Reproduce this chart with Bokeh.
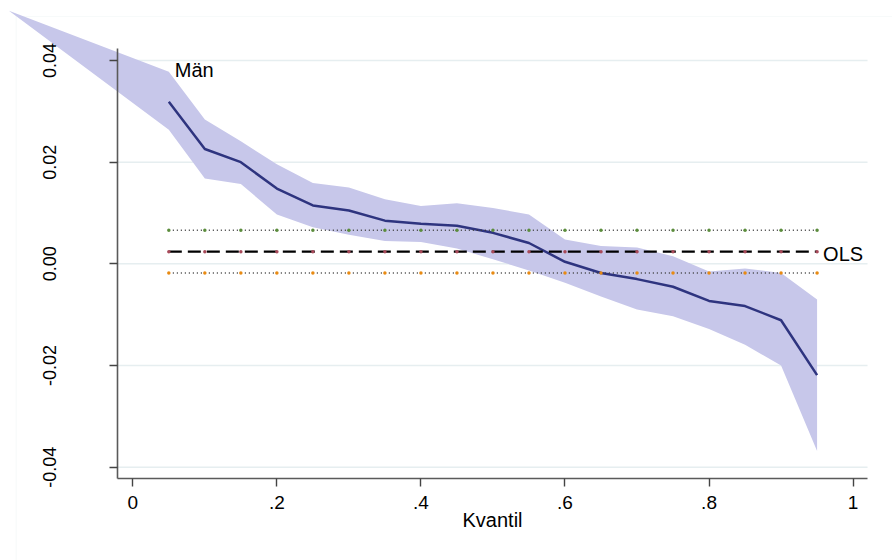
import math
from bokeh.plotting import figure
from bokeh.models import LinearAxis, FixedTicker, BoxAnnotation, Range1d
from bokeh.core.properties import value
from bokeh.embed import file_html
from bokeh.resources import INLINE

# ---- data ----
quantiles = [0.05, 0.10, 0.15, 0.20, 0.25, 0.30, 0.35, 0.40, 0.45, 0.50,
             0.55, 0.60, 0.65, 0.70, 0.75, 0.80, 0.85, 0.90, 0.95]
coef_men = [0.0319, 0.0226, 0.0200, 0.0148, 0.0115, 0.0105, 0.0085, 0.0079, 0.0075, 0.0061,
            0.0041, 0.0004, -0.0018, -0.0030, -0.0045, -0.0073, -0.0083, -0.0111, -0.0219]
ci_upper = [0.0378, 0.0284, 0.0241, 0.0196, 0.0159, 0.0150, 0.0127, 0.0114, 0.0119, 0.0110,
            0.0097, 0.0048, 0.0035, 0.0032, 0.0015, -0.0015, -0.0009, -0.0018, -0.0070]
ci_lower = [0.0264, 0.0168, 0.0157, 0.0097, 0.0072, 0.0057, 0.0045, 0.0043, 0.0030, 0.0009,
            -0.0013, -0.0037, -0.0064, -0.0090, -0.0103, -0.0128, -0.0159, -0.0200, -0.0368]
band_start_x = -0.172
band_start_y = 0.0498
ols_coef = 0.0024
ols_upper = 0.0066
ols_lower = -0.0018
x_ticks = [0, 0.2, 0.4, 0.6, 0.8, 1]
x_tick_labels = ["0", ".2", ".4", ".6", ".8", "1"]
y_ticks = [-0.04, -0.02, 0, 0.02, 0.04]
y_tick_labels = ["-0.04", "-0.02", "0.00", "0.02", "0.04"]

band_x = [band_start_x] + quantiles
band_hi = [band_start_y] + ci_upper
band_lo = [band_start_y] + ci_lower
ols_c = [ols_coef] * len(quantiles)
ols_u = [ols_upper] * len(quantiles)
ols_l = [ols_lower] * len(quantiles)

FONT = "Liberation Sans"
X_AX_LOC = -0.0208   # data x of the vertical axis line
Y_AX_LOC = -0.0423   # data y of the horizontal axis line
X_END = 1.02

p = figure(width=892, height=560,
           x_range=Range1d(-0.18368, 1.05470), y_range=Range1d(-0.058355, 0.051804),
           x_axis_location=None, y_axis_location=None,
           toolbar_location=None, output_backend="svg",
           min_border=0, outline_line_color=None,
           background_fill_color="white", border_fill_color="white")
p.xgrid.visible = False
p.ygrid.visible = False

# faint outer region frame
p.add_layout(BoxAnnotation(left=-0.1619, top=0.04866, right=1.3, bottom=-0.09,
                           fill_color=None, line_color="#e4eded", line_width=1.2,
                           level="underlay"))

# horizontal grid lines at the y ticks, spanning the inner plot region
p.multi_line(xs=[[X_AX_LOC, X_END] for _ in y_ticks], ys=[[t, t] for t in y_ticks],
             line_color="#e6eef0", line_width=1.5)

# confidence band
p.varea(x=band_x, y1=band_lo, y2=band_hi, fill_color="#c7c7ea", fill_alpha=1.0)

# quantile coefficients
p.line(quantiles, coef_men, line_color="#2e347f", line_width=2.5)

# OLS lines
p.line(quantiles, ols_u, line_color="#3a3a3a", line_width=1.5, line_dash="1 3")
p.line(quantiles, ols_l, line_color="#3a3a3a", line_width=1.5, line_dash="1 3")
p.line(quantiles, ols_c, line_color="black", line_width=2.2, line_dash="13 6")
p.scatter(quantiles, ols_u, size=3.5, fill_color="#5b8c3c", line_color=None)
p.scatter(quantiles, ols_l, size=3.5, fill_color="#e88a12", line_color=None)
p.scatter(quantiles, ols_c, size=3.5, fill_color="#a84a5a", line_color=None)

# labels
p.text(x=[quantiles[0]], y=[0.0381], text=["Män"], x_offset=6,
       text_font=value(FONT), text_font_size="20px", text_color="black",
       text_baseline="alphabetic", text_align="left")
p.text(x=[quantiles[-1]], y=[ols_coef], text=["OLS"], x_offset=6, y_offset=2.5,
       text_font=value(FONT), text_font_size="20px", text_color="black",
       text_baseline="alphabetic", text_align="left")

# axes
yaxis = LinearAxis(fixed_location=X_AX_LOC, bounds=(Y_AX_LOC, -Y_AX_LOC),
                   ticker=FixedTicker(ticks=y_ticks),
                   major_label_overrides=dict(zip(y_ticks, y_tick_labels)),
                   major_label_orientation="parallel",
                   major_label_standoff=54,
                   major_tick_in=0, major_tick_out=8, minor_tick_out=0, minor_tick_in=0,
                   axis_line_color="#5a5a5a", axis_line_width=1.6,
                   major_tick_line_color="#444444", major_tick_line_width=1.4,
                   major_label_text_font=FONT, major_label_text_font_size="18px",
                   major_label_text_color="black")
p.add_layout(yaxis, "left")

xaxis = LinearAxis(fixed_location=Y_AX_LOC, bounds=(X_AX_LOC, X_END),
                   ticker=FixedTicker(ticks=x_ticks),
                   major_label_overrides=dict(zip(x_ticks, x_tick_labels)),
                   major_label_standoff=9,
                   major_tick_in=0, major_tick_out=8, minor_tick_out=0, minor_tick_in=0,
                   axis_line_color="#5a5a5a", axis_line_width=1.6,
                   major_tick_line_color="#444444", major_tick_line_width=1.4,
                   major_label_text_font=FONT, major_label_text_font_size="19px",
                   major_label_text_color="black",
                   axis_label="Kvantil", axis_label_standoff=-3,
                   axis_label_text_font=FONT, axis_label_text_font_size="20px",
                   axis_label_text_font_style="normal", axis_label_text_color="black")
p.add_layout(xaxis, "below")

open("out.html", "w").write(file_html(p, INLINE))
